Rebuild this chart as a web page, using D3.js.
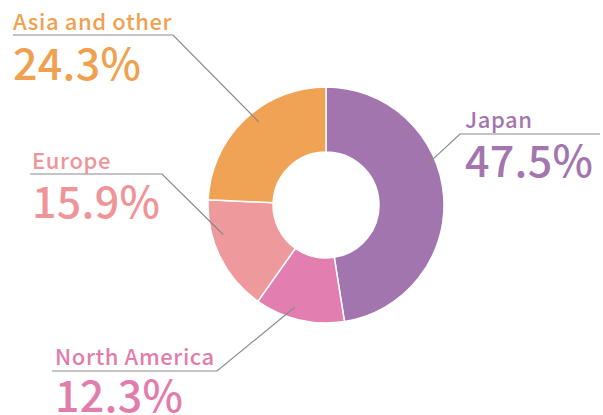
<!DOCTYPE html>
<html>
<head>
<meta charset="utf-8">
<script src="https://cdn.jsdelivr.net/npm/d3@7"></script>
<style>
  body { margin: 0; background: #fff; }
  svg { display: block; font-family: "Noto Sans CJK JP", "Noto Sans", sans-serif; }
</style>
</head>
<body>
<svg id="chart"></svg>
<script>
// data
const regions = ['Japan', 'North America', 'Europe', 'Asia and other'];
const shares = [47.5, 12.3, 15.9, 24.3];
const sliceColors = ['#a275ae', '#e27fb0', '#ee9a9d', '#f0a355'];
const textColors = ['#a476ae', '#e17dac', '#ef9598', '#efa150'];

// label placement (layout only)
const labelLayout = [
  {x0: 460, x1: 600, y: 134, tx: 465, ly: -6, py: 43, angle: 69, r: 105},
  {x0: 52,  x1: 217, y: 371, tx: 55,  ly: -6, py: 41, angle: 197, r: 107},
  {x0: 30,  x1: 162, y: 174, tx: 32,  ly: -5, py: 44, angle: 254, r: 107},
  {x0: 13,  x1: 173, y: 35,  tx: 13,  ly: -5, py: 45, angle: 321, r: 107}
];

const width = 603, height = 415;
const cx = 326, cy = 205, outerR = 118, innerR = 53;

const svg = d3.select('#chart')
  .attr('width', width)
  .attr('height', height);

const data = regions.map((d, i) => ({region: d, value: shares[i], i: i}));

const pie = d3.pie().value(d => d.value).sort(null);
const arc = d3.arc().innerRadius(innerR).outerRadius(outerR);

const g = svg.append('g').attr('transform', `translate(${cx},${cy})`);

g.selectAll('path')
  .data(pie(data))
  .join('path')
  .attr('d', arc)
  .attr('fill', d => sliceColors[d.data.i])
  .attr('stroke', '#fff')
  .attr('stroke-width', 1.5);

// leader lines + labels
const labels = svg.append('g');
data.forEach((d, i) => {
  const L = labelLayout[i];
  const a = L.angle * Math.PI / 180;
  const ex = cx + Math.sin(a) * L.r;
  const ey = cy - Math.cos(a) * L.r;
  // line from the horizontal end nearest the donut
  const near = (L.x0 > cx) ? L.x0 : L.x1;
  const far = (L.x0 > cx) ? L.x1 : L.x0;
  labels.append('polyline')
    .attr('points', `${far},${L.y} ${near},${L.y} ${ex},${ey}`)
    .attr('fill', 'none')
    .attr('stroke', '#8a8a8a')
    .attr('stroke-width', 1.2);

  labels.append('text')
    .attr('x', L.tx)
    .attr('y', L.y + L.ly)
    .attr('fill', textColors[i])
    .attr('font-size', 22)
    .attr('font-weight', 500)
    .attr('letter-spacing', 0.6)
    .text(d.region);

  labels.append('text')
    .attr('x', L.tx)
    .attr('y', L.y + L.py)
    .attr('fill', textColors[i])
    .attr('font-size', 43)
    .attr('font-weight', 500)
    .attr('letter-spacing', 0.3)
    .text(d3.format('.1f')(d.value) + '%');
});
</script>
</body>
</html>
